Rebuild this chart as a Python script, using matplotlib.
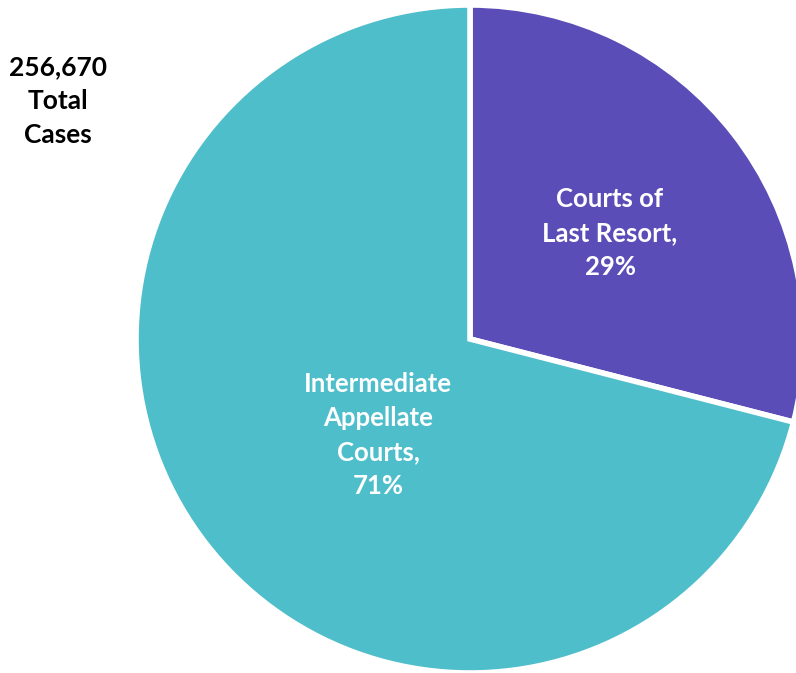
import matplotlib.pyplot as plt

# case counts by court type (share of 256,670 total)
categories = ["Courts of\nLast Resort", "Intermediate\nAppellate\nCourts"]
shares = [29, 71]
total_cases = "256,670"
colors = ["#5B4DB7", "#4FBECB"]

plt.rcParams['font.family'] = ['Lato', 'DejaVu Sans']

fig = plt.figure(figsize=(7.96, 6.73), dpi=100)
ax = fig.add_axes([0, 0, 1, 1])

wedges, _ = ax.pie(shares, colors=colors, startangle=90, counterclock=False,
                   center=(470, 334), radius=334, frame=True,
                   wedgeprops=dict(edgecolor='white', linewidth=4))
ax.set_xlim(0, 796)
ax.set_ylim(0, 673)
ax.set_aspect('equal')
ax.axis('off')

label_pos = [(610, 440), (378, 238)]
for cat, val, (x, y) in zip(categories, shares, label_pos):
    ax.text(x, y, f"{cat},\n{val}%", ha='center', va='center', color='white',
            fontsize=18.5, fontweight='bold', linespacing=1.5)

ax.text(58, 572, f"{total_cases}\nTotal\nCases", ha='center', va='center',
        color='black', fontsize=19, fontweight='bold', linespacing=1.5)

fig.savefig("out.png", dpi=100)
